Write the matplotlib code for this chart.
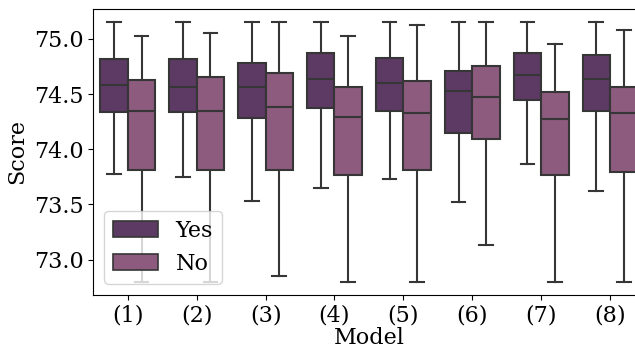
import matplotlib.pyplot as plt

models = ["(1)", "(2)", "(3)", "(4)", "(5)", "(6)", "(7)", "(8)"]
hues = ["Yes", "No"]

# five-number summaries: low whisker, q1, median, q3, high whisker
yes_lo = [73.78, 73.75, 73.53, 73.65, 73.73, 73.52, 73.87, 73.62]
yes_q1 = [74.34, 74.34, 74.28, 74.37, 74.35, 74.15, 74.45, 74.35]
yes_med = [74.58, 74.56, 74.56, 74.64, 74.60, 74.53, 74.67, 74.64]
yes_q3 = [74.82, 74.82, 74.78, 74.87, 74.83, 74.71, 74.87, 74.85]
yes_hi = [75.15, 75.15, 75.15, 75.15, 75.15, 75.15, 75.15, 75.15]

no_lo = [72.80, 72.80, 72.85, 72.80, 72.80, 73.13, 72.80, 72.80]
no_q1 = [73.81, 73.81, 73.81, 73.77, 73.81, 74.09, 73.77, 73.79]
no_med = [74.35, 74.35, 74.38, 74.29, 74.33, 74.47, 74.27, 74.33]
no_q3 = [74.63, 74.65, 74.69, 74.56, 74.62, 74.75, 74.52, 74.56]
no_hi = [75.03, 75.05, 75.15, 75.03, 75.13, 75.15, 74.95, 75.08]

colors = ["#5c3a64", "#8c5b7e"]
edge = "#363636"

plt.rcParams['font.family'] = ['DejaVu Serif']
plt.rcParams['font.size'] = 16

fig = plt.figure(figsize=(6.35, 3.49), dpi=100)
ax = fig.add_axes([0.147, 0.155, 0.868, 0.819])

series = [(yes_lo, yes_q1, yes_med, yes_q3, yes_hi), (no_lo, no_q1, no_med, no_q3, no_hi)]
for h, (lo, q1, med, q3, hi) in enumerate(series):
    stats = [dict(whislo=lo[i], q1=q1[i], med=med[i], q3=q3[i], whishi=hi[i], fliers=[])
             for i in range(len(models))]
    pos = [i - 0.2 + 0.4 * h for i in range(len(models))]
    ax.bxp(stats, positions=pos, widths=0.4, patch_artist=True, showfliers=False,
           boxprops=dict(facecolor=colors[h], edgecolor=edge, linewidth=1.5),
           medianprops=dict(color=edge, linewidth=1.5),
           whiskerprops=dict(color=edge, linewidth=1.5),
           capprops=dict(color=edge, linewidth=1.5),
           manage_ticks=False)

ax.set_xticks(range(len(models)))
ax.set_xticklabels(models)
ax.set_xlim(-0.5, len(models) - 0.5)
ax.set_ylim(72.68, 75.27)
ax.set_yticks([73.0, 73.5, 74.0, 74.5, 75.0])
ax.set_xlabel("Model", labelpad=0)
ax.set_ylabel("Score")

handles = [plt.Rectangle((0, 0), 1, 1, facecolor=c, edgecolor=edge, linewidth=1.2) for c in colors]
ax.legend(handles, hues, loc="lower left", borderpad=0.4, handlelength=2.0)

fig.savefig("out.png", dpi=100)
